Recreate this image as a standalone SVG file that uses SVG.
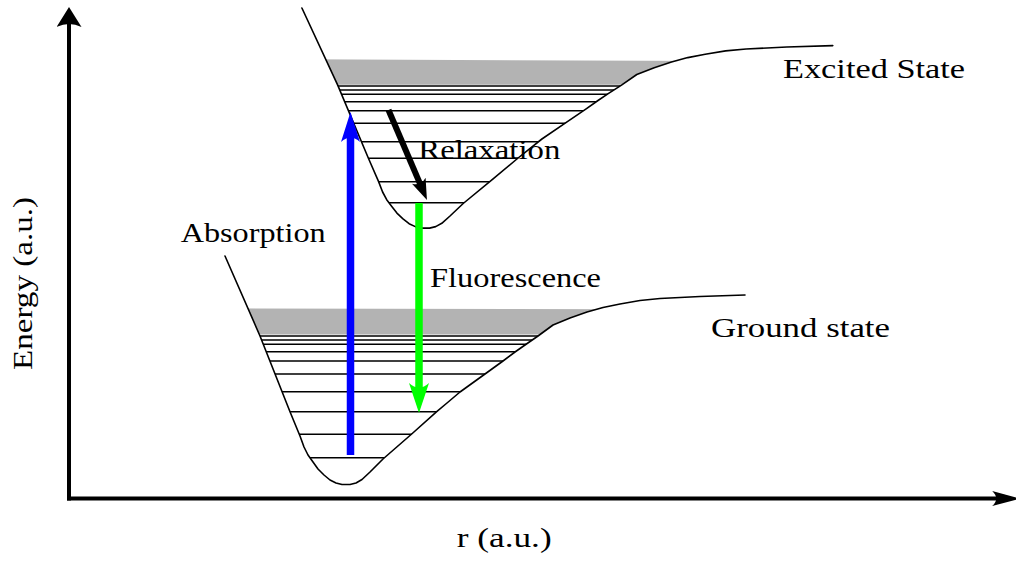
<svg xmlns="http://www.w3.org/2000/svg" width="1016" height="561" viewBox="0 0 1016 561">
<style>
.curve{fill:none;stroke:#000;stroke-width:1.6;stroke-linejoin:round;stroke-linecap:round}
.lvl{fill:none;stroke:#000;stroke-width:1.4}
.band{fill:#b3b3b3;stroke:none}
.lbl{font-family:"Liberation Serif","Times New Roman",serif;font-size:28px;fill:#000}
.axis{fill:none;stroke:#000;stroke-width:4}
</style>
<defs>
<marker id="hBlue" viewBox="0 0 30 19" markerWidth="30" markerHeight="19" refX="12" refY="9.5" orient="auto" markerUnits="userSpaceOnUse"><path d="M0,0 L30,9.5 L0,19 Q9,9.5 0,0 Z" fill="#0000ff"/></marker>
<marker id="hGreen" viewBox="0 0 30 20" markerWidth="30" markerHeight="20" refX="12" refY="10" orient="auto" markerUnits="userSpaceOnUse"><path d="M0,0 L30,10 L0,20 Q9,10 0,0 Z" fill="#00ff00"/></marker>
<marker id="hBlack" viewBox="0 0 21 15" markerWidth="21" markerHeight="15" refX="8.4" refY="7.5" orient="auto" markerUnits="userSpaceOnUse"><path d="M0,0 L21,7.5 L0,15 Q6,7.5 0,0 Z" fill="#000"/></marker>
<marker id="hAxisV" viewBox="0 0 20 25" markerWidth="20" markerHeight="25" refX="8" refY="12.5" orient="auto" markerUnits="userSpaceOnUse"><path d="M0,0 L20,12.5 L0,25 Q6,12.5 0,0 Z" fill="#000"/></marker>
<marker id="hAxisH" viewBox="0 0 28 15" markerWidth="28" markerHeight="15" refX="11" refY="7.5" orient="auto" markerUnits="userSpaceOnUse"><path d="M0,0 L28,7.5 L0,15 Q8,7.5 0,0 Z" fill="#000"/></marker>
<clipPath id="clipG"><path d="M225,256 L260,336 L290,411.7 L300,436 L304,447 L308,455 L313,462 L318,469 L324,475 L330,480 L336,483 L342,484.5 L350,484.5 L356,483 L362,479.5 L370,472 L383,459 L411.7,434 L436.7,411.7 L447,403 L460,392 L485,374 L503,361 L515,352 L525,345 L538,336 L553,325 L570,318 L587,312 L603,307.5 L620,304 L640,300.5 L660,298.5 L700,296.5 L745,295 L745,250 L225,250 Z"/></clipPath>
<clipPath id="clipE"><path d="M301.9,8 L337.7,85.1 L368.3,158 L378.5,181.4 L382.6,192 L386.7,199.7 L391.8,206.4 L396.9,213.1 L403,218.9 L409.1,223.7 L415.3,226.6 L421.4,228.1 L429.6,228.1 L435.7,226.6 L441.8,223.3 L450,216 L463.2,203.5 L492.5,179.4 L518.1,158 L528.6,149.6 L541.9,139 L567.4,121.7 L585.8,109.1 L598,100.5 L608.2,93.7 L621.5,85.1 L636.8,74.5 L654.2,67.7 L671.5,62 L687.8,57.6 L705.2,54.3 L725.6,50.9 L746.1,49 L786.9,47 L832.8,45.6 L832.8,0 L301.9,0 Z"/></clipPath>
</defs>
<rect width="1016" height="561" fill="#fff"/>

<g id="ground-state">
<g clip-path="url(#clipG)">
<polygon class="band" points="215,308.3 640,309.3 640,334.6 215,334.6"/>
<path class="lvl" d="M215,336H760M215,340H760M215,344.3H760M215,351.7H760M215,361H760M215,374H760M215,391.7H760M215,411.7H760M215,434.3H760M215,457.7H760"/>
</g>
<path class="curve" d="M225,256 L260,336 L290,411.7 L300,436 L304,447 L308,455 L313,462 L318,469 L324,475 L330,480 L336,483 L342,484.5 L350,484.5 L356,483 L362,479.5 L370,472 L383,459 L411.7,434 L436.7,411.7 L447,403 L460,392 L485,374 L503,361 L515,352 L525,345 L538,336 L553,325 L570,318 L587,312 L603,307.5 L620,304 L640,300.5 L660,298.5 L700,296.5 L745,295"/>
</g>

<g id="excited-state">
<g clip-path="url(#clipE)">
<polygon class="band" points="290,59.3 720,61 720,84.8 290,84.8"/>
<path class="lvl" d="M290,86H850M290,90H850M290,94.3H850M290,101.7H850M290,110.7H850M290,123.3H850M290,141.7H850M290,158.3H850M290,181.7H850M290,202.7H850"/>
</g>
<path class="curve" d="M301.9,8 L337.7,85.1 L368.3,158 L378.5,181.4 L382.6,192 L386.7,199.7 L391.8,206.4 L396.9,213.1 L403,218.9 L409.1,223.7 L415.3,226.6 L421.4,228.1 L429.6,228.1 L435.7,226.6 L441.8,223.3 L450,216 L463.2,203.5 L492.5,179.4 L518.1,158 L528.6,149.6 L541.9,139 L567.4,121.7 L585.8,109.1 L598,100.5 L608.2,93.7 L621.5,85.1 L636.8,74.5 L654.2,67.7 L671.5,62 L687.8,57.6 L705.2,54.3 L725.6,50.9 L746.1,49 L786.9,47 L832.8,45.6"/>
</g>

<g id="connectors">
<line id="absorption-arrow" x1="350.5" y1="455" x2="350.5" y2="130" stroke="#0000ff" stroke-width="7.5" marker-end="url(#hBlue)"/>
<line id="fluorescence-arrow" x1="419" y1="203" x2="419" y2="395" stroke="#00ff00" stroke-width="7.5" marker-end="url(#hGreen)"/>
<line id="relaxation-arrow" x1="388.5" y1="110" x2="422" y2="188.4" stroke="#000" stroke-width="6" marker-end="url(#hBlack)"/>
</g>

<g id="axes">
<line class="axis" x1="69" y1="500.5" x2="69" y2="19" marker-end="url(#hAxisV)"/>
<line class="axis" x1="67" y1="498.5" x2="1003.2" y2="498.5" marker-end="url(#hAxisH)"/>
</g>

<g id="labels">
<text id="lbl-excited" class="lbl" x="783" y="77.5" textLength="182" lengthAdjust="spacingAndGlyphs">Excited State</text>
<text id="lbl-relax" class="lbl" x="418.3" y="158.5" textLength="142" lengthAdjust="spacingAndGlyphs">Relaxation</text>
<text id="lbl-abs" class="lbl" x="180.7" y="241.7" textLength="145" lengthAdjust="spacingAndGlyphs">Absorption</text>
<text id="lbl-fluo" class="lbl" x="430" y="287.3" textLength="171" lengthAdjust="spacingAndGlyphs">Fluorescence</text>
<text id="lbl-ground" class="lbl" x="711" y="337" textLength="179" lengthAdjust="spacingAndGlyphs">Ground state</text>
<text id="lbl-r" class="lbl" x="456.7" y="547.3" textLength="95" lengthAdjust="spacingAndGlyphs">r (a.u.)</text>
<text id="lbl-energy" class="lbl" transform="translate(31.7,370) rotate(-90)" x="0" y="0" textLength="173" lengthAdjust="spacingAndGlyphs">Energy (a.u.)</text>
</g>
</svg>
